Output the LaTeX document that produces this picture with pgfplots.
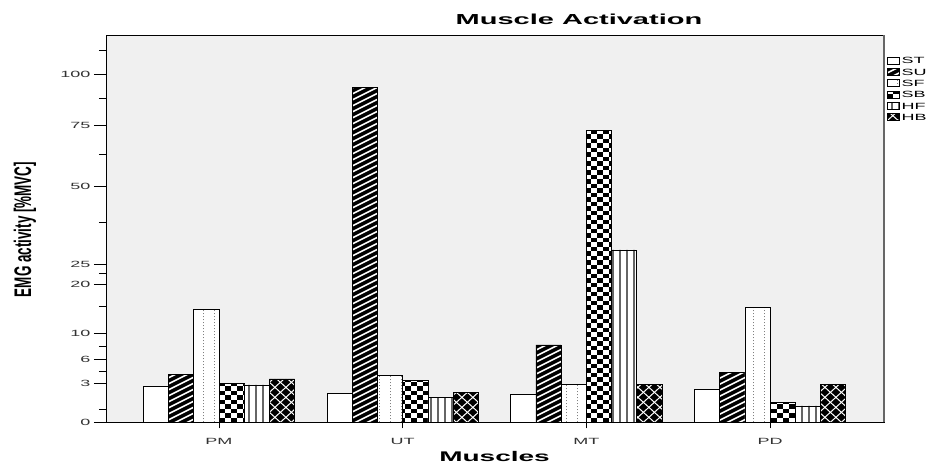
\documentclass[border=0pt]{standalone}
\usepackage{fontspec}
\setmainfont{Liberation Sans}
\usepackage{pgfplots}
\pgfplotsset{compat=1.18}
\definecolor{bg}{HTML}{F0F0F0}
\newcommand{\sx}[1]{\mbox{\scalebox{2}[1]{#1}}}
\tikzset{
 np/.style={path picture={}, fill=none},
 pSU/.style={path picture={%
   \foreach \k in {0,...,116}{\draw[np, white, line width=1.6pt] ([xshift=-5pt,yshift=\k*6pt-330pt]path picture bounding box.south west) -- ++(640pt,320pt);}}},
 pSF/.style={path picture={%
   \foreach \i in {0,...,57}{\draw[np, black!50, line width=1pt, dash pattern=on 1.2pt off 1.8pt] ([xshift=\i*11pt+10pt]path picture bounding box.south west) -- ++(0pt,400pt);}}},
 pSB/.style={path picture={%
   \foreach \r in {0,2,...,80}{\draw[np, black, line width=4.5pt, dash pattern=on 6pt off 6pt] ([yshift=\r*4.5pt+2.25pt]path picture bounding box.south west) -- ++(640pt,0pt);}
   \foreach \r in {1,3,...,81}{\draw[np, black, line width=4.5pt, dash pattern=on 6pt off 6pt] ([xshift=6pt,yshift=\r*4.5pt+2.25pt]path picture bounding box.south west) -- ++(640pt,0pt);}}},
 pHF/.style={path picture={%
   \draw[np, black!60, line width=800pt, dash pattern=on 1.8pt off 5.2pt] ([xshift=4pt]path picture bounding box.south west) -- ++(640pt,0pt);}},
 pHB/.style={path picture={%
   \foreach \k in {0,...,94}{\draw[np, white, line width=1pt] ([yshift=\k*10pt-570pt]path picture bounding box.south west) -- ++(627pt,570pt);
     \draw[np, white, line width=1pt] ([yshift=\k*10pt]path picture bounding box.south west) -- ++(627pt,-570pt);}}},
}
\begin{document}
\begin{tikzpicture}
\useasboundingbox (0,0) rectangle (937pt,463pt);
\begin{axis}[
 at={(106pt,40.7pt)}, anchor=south west,
 scale only axis, width=778pt, height=387pt,
 ybar=0pt, bar width=25.2pt,
 xmin=-0.615, xmax=3.62,
 ymin=0, ymax=121.2,
 y coord trafo/.code={\pgfmathparse{sqrt(#1+1)-1}},
 y coord inv trafo/.code={\pgfmathparse{(#1+1)^2-1}},
 ytick={0,3,6,10,20,25,50,75,100},
 yticklabels={\sx{0},\sx{3},\sx{6},\sx{10},\sx{20},\sx{25},\sx{50},\sx{75},\sx{100}},
 minor ytick={0.8,4.4,7.9,15,22.7,37.5,62.5,87.5,112.9},
 xtick={0,1,2,3}, xticklabels={\sx{PM},\sx{UT},\sx{MT},\sx{PD}},
 tick align=outside, tick pos=left,
 major tick length=12pt, minor tick length=7pt,
 xtick style={/pgfplots/major tick length=6pt},
 tick style={black, line width=0.8pt},
 tick label style={font=\fontsize{9}{10}\selectfont, text=black!80},
 axis background/.style={fill=bg},
 axis line style={black, line width=1pt},
 clip=false,
 legend style={at={(axis description cs:1.0035,0.945)}, anchor=north west,
   draw=none, fill=none, inner sep=0pt, row sep=3.6pt, column sep=2pt,
   nodes={inner sep=0.3pt, anchor=west, text height=6.5pt, text depth=0pt},
   font=\fontsize{9}{9}\selectfont},
 legend image code/.code={\draw[#1] (0pt,-3.5pt) rectangle (11.6pt,3.5pt);},
 every axis plot/.append style={line width=0.7pt},
]
\addplot[draw=black, fill=white] coordinates {(0,2.78) (1,2.07) (2,1.98) (3,2.45)};
\addlegendentry{\sx{ST}}
\addplot[draw=black, fill=black, pSU] coordinates {(0,4.0) (1,93.2) (2,8.05) (3,4.29)};
\addlegendentry{\sx{SU}}
\addplot[draw=black, fill=white, pSF] coordinates {(0,14.5) (1,3.93) (2,2.98) (3,14.9)};
\addlegendentry{\sx{SF}}
\addplot[draw=black, fill=white, pSB] coordinates {(0,3.01) (1,3.37) (2,72.5) (3,1.31)};
\addlegendentry{\sx{SB}}
\addplot[draw=black, fill=white, pHF] coordinates {(0,2.88) (1,1.72) (2,29.0) (3,1.03)};
\addlegendentry{\sx{HF}}
\addplot[draw=black, fill=black, pHB] coordinates {(0,3.52) (1,2.13) (2,2.98) (3,2.98)};
\addlegendentry{\sx{HB}}
\draw[black!60, line width=2.5pt] (rel axis cs:1,0) -- (rel axis cs:1,1);
\end{axis}
\node[anchor=base, font=\bfseries\fontsize{14.5}{15}\selectfont] at (579pt,438pt) {\scalebox{2}[1]{Muscle Activation}};
\node[anchor=base, font=\bfseries\fontsize{14}{15}\selectfont] at (494.5pt,1.5pt) {\scalebox{2}[1]{Muscles}};
\node[rotate=90, font=\bfseries\fontsize{12}{12}\selectfont] at (25pt,233.5pt) {\scalebox{1.12}[2]{EMG activity [\%MVC]}};
\end{tikzpicture}
\end{document}
